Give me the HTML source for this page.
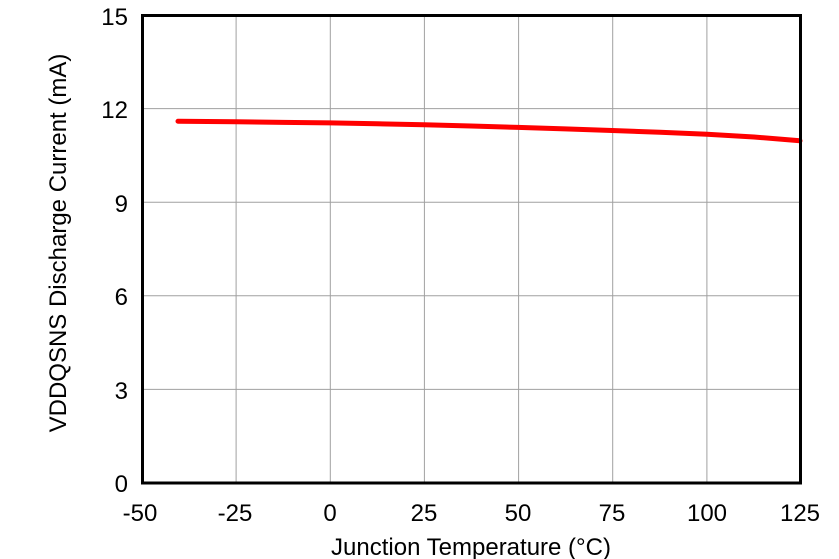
<!DOCTYPE html>
<html><head><meta charset="utf-8"><style>
html,body{margin:0;padding:0;background:#fff;}
svg{display:block;font-family:"Liberation Sans",Arial,sans-serif;}
</style></head><body>
<svg width="839" height="559" viewBox="0 0 839 559" xmlns="http://www.w3.org/2000/svg">
<g stroke="#a0a0a0" stroke-width="1">
<line x1="236.1" y1="15" x2="236.1" y2="483"/>
<line x1="330.3" y1="15" x2="330.3" y2="483"/>
<line x1="424.4" y1="15" x2="424.4" y2="483"/>
<line x1="518.6" y1="15" x2="518.6" y2="483"/>
<line x1="612.7" y1="15" x2="612.7" y2="483"/>
<line x1="706.9" y1="15" x2="706.9" y2="483"/>
<line x1="142" y1="108.6" x2="801" y2="108.6"/>
<line x1="142" y1="202.2" x2="801" y2="202.2"/>
<line x1="142" y1="295.8" x2="801" y2="295.8"/>
<line x1="142" y1="389.4" x2="801" y2="389.4"/>
</g>
<polyline fill="none" stroke="#ff0000" stroke-width="5" stroke-linecap="round" stroke-linejoin="round"
points="178,121.3 236,121.8 283,122.4 330,122.9 377,123.8 424,124.8 471,126 518,127.4 565,128.9 612,130.5 660,132.3 707,134.3 754,137 800,140.8"/>
<rect x="142.5" y="15.5" width="658" height="467.5" fill="none" stroke="#000" stroke-width="3"/>
<g font-size="24" fill="#000" text-anchor="end">
<text x="128" y="25">15</text>
<text x="128" y="118">12</text>
<text x="128" y="212">9</text>
<text x="128" y="305">6</text>
<text x="128" y="399">3</text>
<text x="128" y="492">0</text>
</g>
<g font-size="24" fill="#000" text-anchor="middle">
<text x="140" y="521">-50</text>
<text x="235" y="521">-25</text>
<text x="330" y="521">0</text>
<text x="424" y="521">25</text>
<text x="518" y="521">50</text>
<text x="612" y="521">75</text>
<text x="707" y="521">100</text>
<text x="800" y="521">125</text>
<text x="471" y="555">Junction Temperature (°C)</text>
<text transform="translate(66,243) rotate(-90)">VDDQSNS Discharge Current (mA)</text>
</g>
</svg>
</body></html>
